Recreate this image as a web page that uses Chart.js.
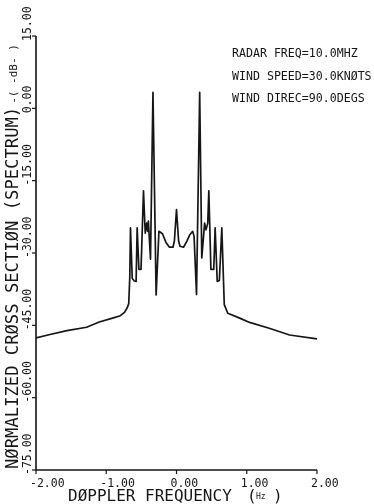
<!DOCTYPE html>
<html>
<head>
<meta charset="utf-8">
<script src="https://cdn.jsdelivr.net/npm/chart.js@4.4.1/dist/chart.umd.min.js"></script>
<style>
  html, body { margin: 0; padding: 0; background: #fff; }
  #wrap { width: 374px; height: 504px; }
</style>
</head>
<body>
<div id="wrap"><canvas id="c" width="374" height="504"></canvas></div>
<script>
// doppler spectrum
const freqHz = [
  -2.00, -1.80, -1.56, -1.28, -1.10, -0.91, -0.80, -0.74, -0.70, -0.68,
  -0.665, -0.655, -0.63, -0.60, -0.575, -0.56, -0.535, -0.505, -0.47, -0.445,
  -0.425, -0.41, -0.40, -0.37, -0.335, -0.29, -0.25, -0.20, -0.15, -0.10,
  -0.05, -0.03, 0.00, 0.03, 0.05, 0.10, 0.15, 0.19, 0.23, 0.25,
  0.285, 0.33, 0.36, 0.40, 0.42, 0.445, 0.46, 0.49, 0.53, 0.55,
  0.58, 0.61, 0.645, 0.68, 0.73, 0.90, 1.04, 1.32, 1.61, 2.00
];
const sigmaDb = [
  -47.6, -46.9, -46.1, -45.4, -44.3, -43.5, -43.0, -42.3, -41.3, -40.5,
  -35.0, -24.8, -35.3, -35.8, -35.9, -24.8, -33.4, -33.4, -17.1, -25.9,
  -23.8, -25.5, -23.4, -31.3, 3.3, -38.7, -25.5, -26.0, -27.8, -28.8,
  -28.8, -27.5, -21.0, -27.5, -28.6, -28.8, -27.5, -26.2, -25.5, -26.5,
  -38.6, 3.3, -31.0, -23.8, -25.2, -23.8, -17.1, -33.4, -33.4, -24.8,
  -35.9, -35.7, -24.8, -40.7, -42.5, -43.5, -44.4, -45.6, -47.0, -47.8
];

const xTicks = [-2, -1, 0, 1, 2];
const xTickLabels = ["-2.00", "-1.00", "0.00", "1.00", "2.00"];
const yTicks = [15, 0, -15, -30, -45, -60, -75];
const yTickLabels = ["15.00", "0.00", "-15.00", "-30.00", "-45.00", "-60.00", "-75.00"];

const notes = ["RADAR FREQ=10.0MHZ", "WIND SPEED=30.0KNØTS", "WIND DIREC=90.0DEGS"];

const MONO = '"DejaVu Sans Mono", monospace';
const INK = "#161616";

// plotter-style axes, ticks and lettering
const plotterAxes = {
  id: "plotterAxes",
  afterDraw(chart) {
    const ctx = chart.ctx;
    const xs = chart.scales.x, ys = chart.scales.y;
    const x0 = xs.getPixelForValue(-2), x1 = xs.getPixelForValue(2);
    const yTop = ys.getPixelForValue(15), yBot = ys.getPixelForValue(-75);
    ctx.save();
    ctx.strokeStyle = INK;
    ctx.fillStyle = INK;
    ctx.lineWidth = 1.6;
    ctx.beginPath();
    ctx.moveTo(x0, yTop);
    ctx.lineTo(x0, yBot);
    ctx.lineTo(x1, yBot);
    ctx.stroke();

    ctx.lineWidth = 1.2;
    yTicks.forEach(v => {
      const py = ys.getPixelForValue(v);
      ctx.beginPath(); ctx.moveTo(x0 - 4, py); ctx.lineTo(x0, py); ctx.stroke();
    });
    xTicks.forEach(v => {
      const px = xs.getPixelForValue(v);
      ctx.beginPath(); ctx.moveTo(px, yBot); ctx.lineTo(px, yBot + 4); ctx.stroke();
    });

    // x tick labels
    ctx.font = "11.5px " + MONO;
    ctx.textAlign = "left";
    ctx.textBaseline = "alphabetic";
    xTicks.forEach((v, i) => {
      ctx.fillText(xTickLabels[i], xs.getPixelForValue(v) - 6, yBot + 17);
    });

    // y tick labels, rotated, starting just below the tick
    yTicks.forEach((v, i) => {
      ctx.save();
      ctx.translate(x0 - 5, ys.getPixelForValue(v) + 5);
      ctx.rotate(-Math.PI / 2);
      ctx.font = "11.5px " + MONO;
      ctx.fillText(yTickLabels[i], 0, 0);
      ctx.restore();
    });

    // x title
    ctx.font = "16px " + MONO;
    ctx.fillText("DØPPLER FREQUENCY", 68, 501);
    ctx.fillText("(", 247, 501);
    ctx.fillText(")", 273, 501);
    ctx.font = "8px " + MONO;
    ctx.fillText("Hz", 256, 499);

    // y title
    ctx.save();
    ctx.translate(18, 469);
    ctx.rotate(-Math.PI / 2);
    ctx.font = "17.2px " + MONO;
    const t = "NØRMALIZED CRØSS SECTIØN (SPECTRUM)";
    ctx.fillText(t, 0, 0);
    const w = ctx.measureText(t).width;
    ctx.font = "11px " + MONO;
    ctx.fillText("-( -dB- )", w + 3, -1);
    ctx.restore();

    // run parameters
    ctx.font = "11.6px " + MONO;
    notes.forEach((s, i) => ctx.fillText(s, 232, 57 + i * 22.5));
    ctx.restore();
  }
};

new Chart(document.getElementById("c"), {
  type: "line",
  data: {
    datasets: [{
      data: freqHz.map((f, i) => ({ x: f, y: sigmaDb[i] })),
      borderColor: INK,
      borderWidth: 1.7,
      borderJoinStyle: "round",
      pointRadius: 0,
      tension: 0,
      fill: false
    }]
  },
  options: {
    responsive: false,
    animation: false,
    layout: { padding: { left: 36, right: 57, top: 36, bottom: 34 } },
    plugins: { legend: { display: false }, tooltip: { enabled: false } },
    scales: {
      x: { type: "linear", min: -2, max: 2, display: false },
      y: { type: "linear", min: -75, max: 15, display: false }
    }
  },
  plugins: [plotterAxes]
});
</script>
</body>
</html>
